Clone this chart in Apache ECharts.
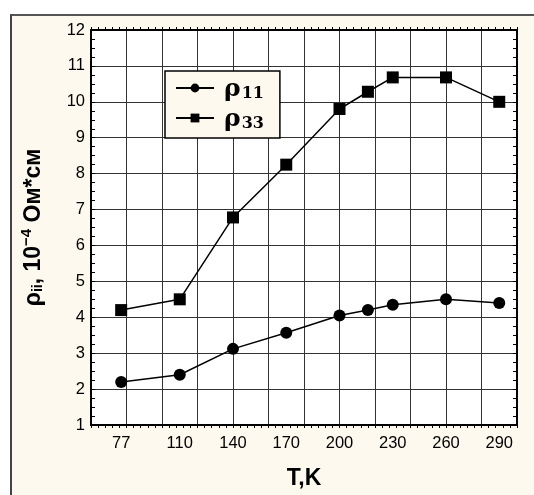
<!DOCTYPE html>
<html>
<head>
<meta charset="utf-8">
<script src="https://cdn.jsdelivr.net/npm/echarts@6/dist/echarts.min.js"></script>
<style>
  html, body { margin: 0; padding: 0; background: #fff; }
  #frame {
    position: absolute; left: 10px; top: 14px; width: 540px; height: 500px;
    background: #fdf9ee; border-left: 2px solid #444; border-top: 2px solid #555;
  }
  #chart { position: absolute; left: 0; top: 0; width: 534px; height: 495px; }
</style>
</head>
<body>
<div id="frame"></div>
<div id="chart"></div>
<script>
// temperature, K
var temps = [77, 110, 140, 170, 200, 216, 230, 260, 290];
var tempLabels = [77, 110, 140, 170, 200, 230, 260, 290];
// resistivity, 10^-4 Ohm*cm
var rho11 = [2.2, 2.4, 3.12, 3.57, 4.05, 4.2, 4.35, 4.5, 4.4];
var rho33 = [4.2, 4.5, 6.78, 8.25, 9.8, 10.28, 10.68, 10.68, 10.0];

function pairs(xs, ys) {
  return xs.map(function (x, i) { return [x, ys[i]]; });
}

var plotW = 534 - 91 - 17, plotH = 495 - 30 - 67;
var axisFont = {fontFamily: 'Liberation Sans, Arial', fontSize: 16.5, color: '#000'};
var frameLine = {show: true, onZero: false, lineStyle: {color: '#000', width: 2}};
var bold = {fontFamily: 'Liberation Sans, Arial', fontWeight: 'bold', lineHeight: 26};

// small ticks pointing into the plot: put the axis on the opposite side and shift it back
function tickX(pos, off) {
  return {
    type: 'value', position: pos, offset: off, min: 60, max: 300, interval: 4,
    axisLine: {show: false}, axisLabel: {show: false}, splitLine: {show: false},
    axisTick: {show: true, length: 4, lineStyle: {color: '#000', width: 1}}
  };
}
function tickY(pos, off) {
  return {
    type: 'value', position: pos, offset: off, min: 1, max: 12, interval: 0.25,
    axisLine: {show: false}, axisLabel: {show: false}, splitLine: {show: false},
    axisTick: {show: true, length: 4, lineStyle: {color: '#000', width: 1}}
  };
}

var option = {
  animation: false,
  grid: {
    left: 91, top: 30, right: 17, bottom: 67,
    show: true, backgroundColor: '#fff', borderWidth: 0
  },
  legend: {
    orient: 'vertical',
    left: 165, top: 71,
    backgroundColor: '#fdf9ee',
    borderColor: '#000',
    borderWidth: 1.5,
    borderRadius: 0,
    padding: [6, 16, 6, 10],
    itemGap: 5,
    itemWidth: 38,
    itemHeight: 11,
    data: ['rho11', 'rho33'],
    formatter: function (name) {
      return name === 'rho11' ? '{r|ρ}{s|11}' : '{r|ρ}{s|33}';
    },
    textStyle: {
      color: '#000',
      rich: {
        r: {fontFamily: 'DejaVu Serif', fontSize: 25, fontWeight: 'bold', lineHeight: 28, verticalAlign: 'bottom', padding: [0, 1, 0, 5]},
        s: {fontFamily: 'DejaVu Serif', fontSize: 16, fontWeight: 'bold', lineHeight: 28, verticalAlign: 'bottom'}
      }
    }
  },
  xAxis: [
    {
      type: 'value', position: 'bottom', min: 60, max: 300, interval: 20,
      axisLine: frameLine,
      axisTick: {show: false},
      axisLabel: Object.assign({customValues: tempLabels, margin: 10}, axisFont),
      splitLine: {show: true, lineStyle: {color: '#333', width: 1}},
      name: 'T,K',
      nameLocation: 'middle',
      nameGap: 42,
      nameTextStyle: {fontFamily: 'Liberation Sans, Arial', fontSize: 23, fontWeight: 'bold', color: '#000'}
    },
    {
      type: 'value', position: 'top', min: 60, max: 300, interval: 20,
      axisLine: frameLine,
      axisTick: {show: false},
      axisLabel: {show: false},
      splitLine: {show: false}
    },
    tickX('top', -plotH),
    tickX('bottom', -plotH)
  ],
  yAxis: [
    {
      type: 'value', position: 'left', min: 1, max: 12, interval: 1,
      axisLine: frameLine,
      axisTick: {show: false},
      axisLabel: Object.assign({margin: 6}, axisFont),
      splitLine: {show: true, lineStyle: {color: '#333', width: 1}},
      name: '{r|ρ}{s|ii}{n|, 10}{p|−4}{n| Ом*см}',
      nameLocation: 'middle',
      nameRotate: 90,
      nameGap: 46,
      nameTextStyle: {
        color: '#000',
        rich: {
          r: Object.assign({fontSize: 23, verticalAlign: 'bottom'}, bold),
          s: Object.assign({fontSize: 14, verticalAlign: 'bottom'}, bold),
          n: Object.assign({fontSize: 23, verticalAlign: 'bottom'}, bold),
          p: Object.assign({fontSize: 15, verticalAlign: 'top'}, bold)
        }
      }
    },
    {
      type: 'value', position: 'right', min: 1, max: 12, interval: 1,
      axisLine: frameLine,
      axisTick: {show: false},
      axisLabel: {show: false},
      splitLine: {show: false}
    },
    tickY('right', -plotW),
    tickY('left', -plotW)
  ],
  series: [
    {
      name: 'rho11', type: 'line', xAxisIndex: 0, yAxisIndex: 0,
      data: pairs(temps, rho11),
      symbol: 'circle', symbolSize: 12,
      itemStyle: {color: '#000'},
      lineStyle: {color: '#000', width: 1.5},
      z: 5
    },
    {
      name: 'rho33', type: 'line', xAxisIndex: 0, yAxisIndex: 0,
      data: pairs(temps, rho33),
      symbol: 'rect', symbolSize: 12,
      itemStyle: {color: '#000'},
      lineStyle: {color: '#000', width: 1.5},
      z: 5
    }
  ]
};

var chart = echarts.init(document.getElementById('chart'));
chart.setOption(option);
</script>
</body>
</html>
